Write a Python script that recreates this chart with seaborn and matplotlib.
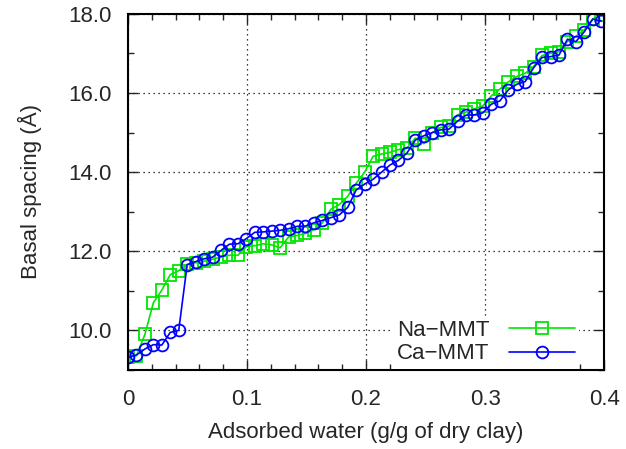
import numpy as np
import pandas as pd
import matplotlib
matplotlib.use("Agg")
import matplotlib.pyplot as plt
import seaborn as sns
from matplotlib.ticker import MultipleLocator, FormatStrFormatter, FuncFormatter

# donnees : eau adsorbee (g/g) et espacement basal (A)
water = [0.0000, 0.0071, 0.0142, 0.0213, 0.0284, 0.0355, 0.0426, 0.0497,
         0.0568, 0.0639, 0.0710, 0.0781, 0.0852, 0.0923, 0.0994, 0.1065,
         0.1136, 0.1207, 0.1278, 0.1349, 0.1420, 0.1491, 0.1562, 0.1633,
         0.1704, 0.1775, 0.1846, 0.1917, 0.1988, 0.2059, 0.2130, 0.2201,
         0.2272, 0.2343, 0.2414, 0.2485, 0.2556, 0.2627, 0.2698, 0.2769,
         0.2840, 0.2911, 0.2982, 0.3053, 0.3124, 0.3195, 0.3266, 0.3337,
         0.3408, 0.3479, 0.3550, 0.3621, 0.3692, 0.3763, 0.3834, 0.3905,
         0.3976]

na_mmt = [9.33, 9.36, 9.90, 10.70, 11.02, 11.41, 11.51, 11.67, 11.71, 11.75,
          11.80, 11.86, 11.90, 11.90, 12.12, 12.14, 12.19, 12.16, 12.09, 12.36,
          12.40, 12.45, 12.55, 12.72, 13.06, 13.18, 13.39, 13.72, 14.00, 14.40,
          14.46, 14.50, 14.57, 14.60, 14.86, 14.72, 15.00, 15.13, 15.16, 15.45,
          15.52, 15.60, 15.68, 15.93, 16.10, 16.28, 16.42, 16.50, 16.67, 16.95,
          17.00, 17.05, 17.30, 17.43, 17.60, 17.87, 17.97]

ca_mmt = [9.32, 9.38, 9.53, 9.64, 9.63, 9.95, 10.00, 11.66, 11.74, 11.81,
          11.85, 12.02, 12.18, 12.19, 12.32, 12.48, 12.49, 12.51, 12.53, 12.57,
          12.63, 12.64, 12.72, 12.78, 12.85, 12.92, 13.11, 13.55, 13.70, 13.82,
          14.00, 14.18, 14.30, 14.48, 14.81, 14.92, 15.00, 15.07, 15.09, 15.29,
          15.44, 15.45, 15.50, 15.72, 15.80, 16.08, 16.22, 16.29, 16.64, 16.90,
          16.92, 16.96, 17.36, 17.30, 17.55, 17.87, 17.82]

sns.set_style("ticks")
plt.rcParams['font.family'] = ['Liberation Sans', 'DejaVu Sans']
plt.rcParams['font.size'] = 16

fig = plt.figure(figsize=(6.26, 4.49), dpi=100)
ax = fig.add_axes([0.2045, 0.176, 0.7605, 0.793])

sns.lineplot(x=water, y=na_mmt, ax=ax, color='#00e600', marker='s',
             markersize=8.5, markerfacecolor='none', markeredgecolor='#00e600',
             markeredgewidth=1.3, linewidth=1.2, sort=False, label='Na\u2212MMT')
sns.lineplot(x=water, y=ca_mmt, ax=ax, color='#0000ff', marker='o',
             markersize=8.5, markerfacecolor='none', markeredgecolor='#0000ff',
             markeredgewidth=1.3, linewidth=1.2, sort=False, label='Ca\u2212MMT')

ax.set_xlim(0, 0.4)
ax.set_ylim(9, 18)
ax.xaxis.set_major_locator(MultipleLocator(0.1))
ax.xaxis.set_minor_locator(MultipleLocator(0.02))
ax.yaxis.set_major_locator(MultipleLocator(2))
ax.yaxis.set_minor_locator(MultipleLocator(1))
ax.xaxis.set_major_formatter(FuncFormatter(lambda v, p: '0' if abs(v) < 1e-9 else f'{v:.1f}'))
ax.yaxis.set_major_formatter(FormatStrFormatter('%.1f'))

ax.tick_params(which='both', direction='in', top=True, right=True, labelsize=16)
ax.tick_params(axis='x', pad=14)
ax.tick_params(axis='y', pad=12)
ax.tick_params(which='major', length=7, width=1)
ax.tick_params(which='minor', length=4, width=1)
ax.grid(True, which='major', linestyle=(0, (1, 3)), color='black', linewidth=0.9)
for s in ax.spines.values():
    s.set_linewidth(1.5)
    s.set_color('black')

ax.set_xlabel('Adsorbed water (g/g of dry clay)', fontsize=16, labelpad=8)
ax.set_ylabel('Basal spacing (\u00c5)', fontsize=16, labelpad=19)

leg = ax.legend(loc='lower right', bbox_to_anchor=(0.948, 0.003), markerfirst=False,
                fontsize=16, handlelength=2.95, frameon=True, fancybox=False,
                framealpha=1, edgecolor='none', facecolor='white',
                labelspacing=0.1, borderpad=0.2, handletextpad=0.9, borderaxespad=0)

fig.savefig('out.png', dpi=100)
